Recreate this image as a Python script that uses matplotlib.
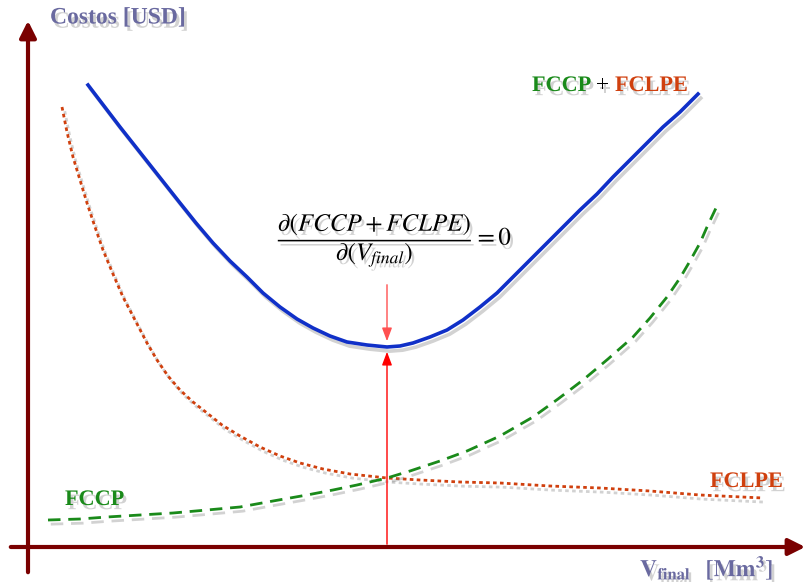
import numpy as np
import matplotlib.pyplot as plt
import matplotlib.patheffects as pe

plt.rcParams['mathtext.fontset'] = 'stix'

# curve points (pixel coordinates, y downwards)
blue_x = [88, 104, 120, 135, 150, 165, 180, 196, 213, 230, 247, 263, 280, 297, 313, 330,
          347, 367, 387, 400, 413, 430, 447, 463, 480, 497, 513, 530, 547, 563, 580, 597,
          613, 630, 647, 663, 680, 698]
blue_y = [85, 106, 127, 146, 165, 184, 203, 223, 243, 261, 277, 293, 307, 319, 328, 336,
          342, 345, 347, 346, 343, 337, 330, 320, 307, 293, 277, 260, 243, 227, 210, 194,
          177, 160, 143, 127, 112, 94]

fclpe_x = [62, 67, 73, 80, 87, 95, 103, 113, 123, 135, 147, 157, 168, 180, 193, 207, 222,
           240, 260, 280, 300, 323, 350, 387, 420, 460, 500, 550, 600, 650, 700, 763]
fclpe_y = [107, 132, 157, 180, 203, 227, 250, 274, 297, 320, 343, 360, 376, 390, 402, 413,
           425, 436, 447, 456, 463, 469, 474, 478, 480, 482, 483, 486, 488, 491, 495, 498]

fccp_x = [48, 80, 107, 140, 173, 207, 240, 273, 307, 333, 357, 387, 410, 440, 467, 500,
          533, 558, 583, 608, 633, 650, 667, 680, 690, 700, 707, 716]
fccp_y = [520, 519, 517, 515, 513, 510, 507, 501, 495, 490, 485, 478, 471, 461, 451, 436,
          417, 399, 380, 359, 337, 318, 297, 278, 261, 243, 227, 208]

x_opt = 387
y_opt = 347

green = '#1a8a1a'
orange = '#d0400e'
axis_col = '#7a0000'
label_col = '#6a6aa0'

shadow = [pe.SimpleLineShadow(offset=(2, -3), shadow_color='gray', alpha=0.35), pe.Normal()]
tshadow = [pe.withSimplePatchShadow(offset=(2, -3), shadow_rgbFace='gray', alpha=0.35)]

fig = plt.figure(figsize=(8.09, 5.82), dpi=100)
ax = fig.add_axes([0, 0, 1, 1])
ax.set_xlim(0, 809)
ax.set_ylim(582, 0)
ax.axis('off')

# axes arrows
ax.annotate('', xy=(28, 18), xytext=(28, 575),
            arrowprops=dict(arrowstyle='-|>,head_width=0.5,head_length=1.0', color=axis_col, lw=3))
ax.annotate('', xy=(808, 547), xytext=(8, 547),
            arrowprops=dict(arrowstyle='-|>,head_width=0.5,head_length=1.0', color=axis_col, lw=3))

# curves
ax.plot(blue_x, blue_y, color='#1030c8', lw=2.6, solid_joinstyle='round', path_effects=shadow)
ax.plot(fclpe_x, fclpe_y, color=orange, lw=2, linestyle=(0, (1.3, 1.2)), path_effects=shadow)
ax.plot(fccp_x, fccp_y, color=green, lw=2, linestyle=(0, (4.5, 2.8)), path_effects=shadow)

# optimum markers
ax.annotate('', xy=(x_opt, y_opt + 2), xytext=(x_opt, 547),
            arrowprops=dict(arrowstyle='-|>,head_width=0.3,head_length=0.8', color='red', lw=1))
ax.annotate('', xy=(x_opt, y_opt - 3), xytext=(x_opt, 282),
            arrowprops=dict(arrowstyle='-|>,head_width=0.3,head_length=0.8', color='#ff5050', lw=1))

# texts
bold = dict(fontweight='bold', family='Liberation Serif', va='center',
            ha='left', path_effects=tshadow)
ax.text(50, 18, 'Costos [USD]', color=label_col, fontsize=17, **bold)
ax.text(532, 86, 'FCCP', color=green, fontsize=16, **bold)
ax.text(596, 86, '+', color='black', fontsize=16, **bold)
ax.text(615, 86, 'FCLPE', color=orange, fontsize=16, **bold)
ax.text(65, 500, 'FCCP', color=green, fontsize=16, **bold)
ax.text(710, 482, 'FCLPE', color=orange, fontsize=16, **bold)
ax.text(640, 568, r'$\mathbf{V_{final}}$  $\mathbf{[Mm^3]}$', color=label_col, fontsize=17,
        va='center', ha='left', path_effects=tshadow)

ax.text(395, 240, r'$\dfrac{\partial\left(FCCP+FCLPE\right)}{\partial(V_{final})}=0$',
        fontsize=18, color='black', ha='center', va='center', path_effects=tshadow)

fig.savefig('out.png', dpi=100)
